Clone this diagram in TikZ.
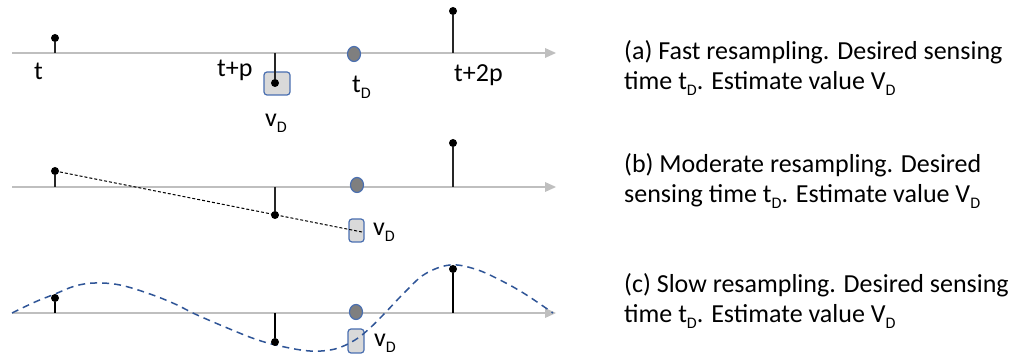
\documentclass[tikz,border=0pt]{standalone}
\usepackage{fontspec}
\usepackage{graphicx}
\setmainfont{Carlito}
\usetikzlibrary{arrows.meta,shapes.geometric}
\definecolor{axisgray}{HTML}{BFBFBF}
\definecolor{boxblue}{HTML}{4A6FB0}
\definecolor{boxfill}{HTML}{D9D9D9}
\definecolor{tdfill}{HTML}{7F7F7F}
\definecolor{curveblue}{HTML}{2F5597}
\newcommand\subD{\raisebox{-0.2em}{\scalebox{0.62}{D}}}
\begin{document}
\begin{tikzpicture}[x=1pt,y=-1pt,
  axisline/.style={draw=axisgray, line width=1.5pt, -{Triangle[length=11pt,width=10pt,fill=axisgray,line width=0pt]}},
  dotmark/.style={circle, fill=black, inner sep=0pt, minimum size=8pt},
  stem/.style={draw=black!85, line width=1.3pt},
  thickstem/.style={draw=black, line width=2.6pt},
  valbox/.style={rectangle, rounded corners=3pt, draw=boxblue, fill=boxfill, line width=1.2pt, inner sep=0pt},
  tdmark/.style={ellipse, draw=boxblue, fill=tdfill, line width=1.2pt, inner sep=0pt, minimum width=13pt, minimum height=15pt},
  lbl/.style={anchor=base west, inner sep=0pt, font=\fontsize{26}{30}\selectfont},
  captext/.style={anchor=base west, inner sep=0pt, font=\fontsize{26}{30}\selectfont},
  dashline/.style={draw=black, line width=1pt, dash pattern=on 3pt off 2pt},
  sinecurve/.style={draw=curveblue, line width=1.5pt, dash pattern=on 7pt off 5pt}
]
\useasboundingbox (0,0) rectangle (1013,358);

% ---------- panel (a)
\coordinate (a0) at (12,53);
\coordinate (a1) at (556,53);
\draw[axisline] (a0) -- (a1);
\coordinate (at1) at (55,53);
\coordinate (at2) at (275,53);
\coordinate (at3) at (453,53);
\node[valbox, minimum width=26pt, minimum height=23pt] (abox) at (277,83.5) {};
\node[tdmark] (atd) at (354,54) {};
\node[dotmark] (ad1) at (55,38) {};
\node[dotmark] (ad2) at (275,83) {};
\node[dotmark] (ad3) at (453,11) {};
\draw[stem] (at1) -- (ad1);
\draw[stem] (at2) -- (ad2);
\draw[stem] (at3) -- (ad3);
\node[lbl] (lt) at (34,80) {t};
\node[lbl] (ltp) at (217,77) {t+p};
\node[lbl] (lt2p) at (454,82) {t+2p};
\node[lbl] (ltd) at (352,93) {t\subD};
\node[lbl] (lva) at (265,127) {v\subD};

% ---------- panel (b)
\coordinate (b0) at (12,187);
\coordinate (b1) at (556,187);
\draw[axisline] (b0) -- (b1);
\coordinate (bt1) at (55,187);
\coordinate (bt2) at (275,187);
\coordinate (bt3) at (453,187);
\node[valbox, minimum width=15pt, minimum height=23pt] (bbox) at (356.5,230.5) {};
\node[tdmark] (btd) at (357,185) {};
\node[dotmark] (bd1) at (55,171) {};
\node[dotmark] (bd2) at (275,215) {};
\node[dotmark] (bd3) at (453,143) {};
\coordinate (bend) at (362,232);
\draw[dashline] (bd1.center) -- (bend);
\draw[stem] (bt1) -- (bd1);
\draw[stem] (bt2) -- (bd2);
\draw[stem] (bt3) -- (bd3);
\node[lbl] (lvb) at (373,236) {v\subD};

% ---------- panel (c)
\coordinate (c0) at (12,313);
\coordinate (c1) at (556,313);
\draw[axisline] (c0) -- (c1);
\coordinate (ct1) at (55,313);
\coordinate (ct2) at (275,313);
\coordinate (ct3) at (453,313);
\node[valbox, minimum width=16pt, minimum height=24pt] (cbox) at (356,341) {};
\draw[sinecurve] plot[smooth, tension=0.6] coordinates {
  (12,313) (35,302) (55,294) (75,286) (95,283) (120,285) (150,294) (175,304)
  (195,314) (225,327) (255,339) (280,346) (310,351) (335,349) (355,340)
  (370,328) (385,313) (405,292) (425,274) (450,265) (475,269) (500,280)
  (525,294) (553,313)};
\node[tdmark] (ctd) at (356,312) {};
\node[dotmark] (cd1) at (55,298) {};
\node[dotmark] (cd2) at (275,342) {};
\node[dotmark] (cd3) at (453,269) {};
\draw[thickstem] (ct1) -- (cd1);
\draw[thickstem] (ct2) -- (cd2);
\draw[thickstem] (ct3) -- (cd3);
\node[lbl] (lvc) at (374,347) {v\subD};

% ---------- captions
\node[captext] (capa1) at (624,60) {(a) Fast resampling. Desired sensing};
\node[captext] (capa2) at (624,90) {time t\subD. Estimate value V\subD};
\node[captext] (capb1) at (624,173) {(b) Moderate resampling. Desired};
\node[captext] (capb2) at (624,203) {sensing time t\subD. Estimate value V\subD};
\node[captext] (capc1) at (624,293) {(c) Slow resampling. Desired sensing};
\node[captext] (capc2) at (624,323) {time t\subD. Estimate value V\subD};
\end{tikzpicture}
\end{document}
